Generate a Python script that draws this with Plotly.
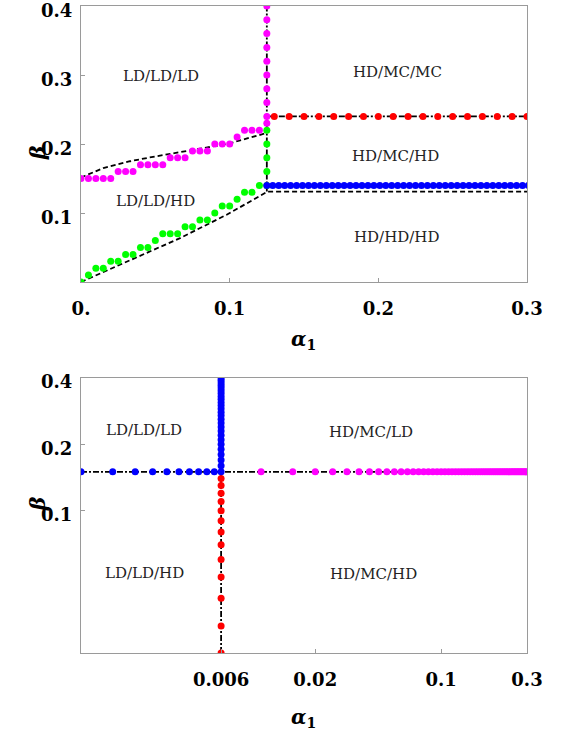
import numpy as np
import plotly.graph_objects as go

# ---------------- top panel data (linear axes) ----------------
mag_x = [0, 0.005, 0.01, 0.015, 0.02, 0.025, 0.03, 0.035, 0.04, 0.045, 0.05, 0.055,
         0.06, 0.065, 0.07, 0.075, 0.08, 0.085, 0.09, 0.095, 0.1, 0.105, 0.11, 0.115, 0.12,
         0.125, 0.125, 0.125, 0.125, 0.125, 0.125, 0.125, 0.125, 0.125, 0.125]
mag_y = [0.15, 0.15, 0.15, 0.15, 0.15, 0.16, 0.16, 0.16, 0.17, 0.17, 0.17, 0.17,
         0.18, 0.18, 0.18, 0.19, 0.19, 0.19, 0.20, 0.20, 0.20, 0.21, 0.22, 0.22, 0.22,
         0.23, 0.24, 0.26, 0.28, 0.30, 0.32, 0.34, 0.36, 0.38, 0.40]

grn_x = [0, 0.005, 0.01, 0.015, 0.02, 0.025, 0.03, 0.035, 0.04, 0.045, 0.05, 0.055,
         0.06, 0.065, 0.07, 0.075, 0.08, 0.085, 0.09, 0.095, 0.1, 0.105, 0.11, 0.115, 0.12,
         0.125, 0.125, 0.125, 0.125, 0.125]
grn_y = [0.0, 0.01, 0.02, 0.02, 0.03, 0.03, 0.04, 0.04, 0.05, 0.05, 0.06, 0.07,
         0.07, 0.07, 0.08, 0.08, 0.09, 0.09, 0.10, 0.11, 0.11, 0.12, 0.13, 0.13, 0.14,
         0.14, 0.16, 0.18, 0.20, 0.22]

red_x = [0.13, 0.14, 0.15, 0.16, 0.17, 0.18, 0.19, 0.20, 0.21, 0.22, 0.23, 0.24,
         0.25, 0.26, 0.27, 0.28, 0.29, 0.30]
red_y = [0.24] * len(red_x)

blu_x = [0.125, 0.129, 0.133, 0.137, 0.141, 0.145, 0.149, 0.153, 0.157, 0.161, 0.165,
         0.169, 0.173, 0.177, 0.181, 0.185, 0.189, 0.193, 0.197, 0.201, 0.205, 0.209,
         0.213, 0.217, 0.221, 0.225, 0.229, 0.233, 0.237, 0.241, 0.245, 0.249, 0.253,
         0.257, 0.261, 0.265, 0.269, 0.273, 0.277, 0.281, 0.285, 0.289, 0.293, 0.297, 0.301]
blu_y = [0.14] * len(blu_x)

# theory boundaries (top)
up_x = [0, 0.0027, 0.015, 0.033, 0.05, 0.067, 0.085, 0.1, 0.112, 0.125]
up_y = [0.151, 0.154, 0.165, 0.175, 0.182, 0.188, 0.195, 0.201, 0.208, 0.216]
lo_x = [0, 0.033, 0.067, 0.098, 0.1255, 0.3]
lo_y = [0, 0.032, 0.064, 0.0975, 0.131, 0.131]
vt_x = [0.125, 0.125]
vt_y = [0.131, 0.40]
ht_x = [0.125, 0.30]
ht_y = [0.24, 0.24]

# ---------------- bottom panel data (log axes) ----------------
b_blu_x = [0.001, 0.0015, 0.002, 0.0025, 0.003, 0.0035, 0.004, 0.0045, 0.005, 0.0055, 0.006,
           0.006, 0.006, 0.006, 0.006, 0.006, 0.006, 0.006, 0.006, 0.006, 0.006, 0.006,
           0.006, 0.006, 0.006, 0.006, 0.006, 0.006, 0.006, 0.006, 0.006, 0.006, 0.006,
           0.006, 0.006, 0.006]
b_blu_y = [0.15, 0.15, 0.15, 0.15, 0.15, 0.15, 0.15, 0.15, 0.15, 0.15, 0.15,
           0.16, 0.17, 0.18, 0.19, 0.20, 0.21, 0.22, 0.23, 0.24, 0.25, 0.26,
           0.27, 0.28, 0.29, 0.30, 0.31, 0.32, 0.33, 0.34, 0.35, 0.36, 0.37,
           0.38, 0.39, 0.40]

b_red_y = [0.14, 0.13, 0.12, 0.11, 0.10, 0.09, 0.08, 0.07, 0.06, 0.05, 0.04, 0.03, 0.0226]
b_red_x = [0.006] * len(b_red_y)

b_mag_x = [0.01, 0.015, 0.02, 0.025, 0.03, 0.035, 0.04, 0.045, 0.05, 0.055, 0.06, 0.065,
           0.07, 0.075, 0.08, 0.085, 0.09, 0.095, 0.1, 0.105, 0.11, 0.115, 0.12, 0.125,
           0.13, 0.135, 0.14, 0.145, 0.15, 0.155, 0.16, 0.165, 0.17, 0.175, 0.18, 0.185,
           0.19, 0.195, 0.2, 0.205, 0.21, 0.215, 0.22, 0.225, 0.23, 0.235, 0.24, 0.245,
           0.25, 0.255, 0.26, 0.265, 0.27, 0.275, 0.28, 0.285, 0.29, 0.295, 0.3]
b_mag_y = [0.15] * len(b_mag_x)

b_h_x = [0.001, 0.3]
b_h_y = [0.15, 0.15]
b_v_x = [0.006, 0.006]
b_v_y = [0.0226, 0.40]

top_labels = ["LD/LD/LD", "LD/LD/HD", "HD/MC/MC", "HD/MC/HD", "HD/HD/HD"]
top_lab_x = [0.054, 0.050, 0.213, 0.2115, 0.212]
top_lab_y = [0.299, 0.118, 0.305, 0.183, 0.065]

bot_labels = ["LD/LD/LD", "LD/LD/HD", "HD/MC/LD", "HD/MC/HD"]
bot_lab_x = [0.00225, 0.00224, 0.0406, 0.042]
bot_lab_y = [0.232, 0.052, 0.228, 0.0516]

top_xticks = [0, 0.1, 0.2, 0.3]
top_xtext = ["0.", "0.1", "0.2", "0.3"]
top_yticks = [0.1, 0.2, 0.3, 0.4]
top_ytext = ["0.1", "0.2", "0.3", "0.4"]
bot_xticks = [0.006, 0.02, 0.1, 0.3]
bot_xtext = ["0.006", "0.02", "0.1", "0.3"]
bot_yticks = [0.1, 0.2, 0.4]
bot_ytext = ["0.1", "0.2", "0.4"]

# ---------------- figure ----------------
SERIF = "DejaVu Serif"
fig = go.Figure()

line_style = dict(color="black", width=1.8, dash="5px,3px")
dd_style = dict(color="black", width=1.8, dash="6px,2px,2px,2px")
msize = 7

# top lines
fig.add_trace(go.Scatter(x=up_x, y=up_y, mode="lines", line=line_style, xaxis="x", yaxis="y"))
fig.add_trace(go.Scatter(x=lo_x, y=lo_y, mode="lines", line=line_style, xaxis="x", yaxis="y"))
fig.add_trace(go.Scatter(x=vt_x, y=vt_y, mode="lines", line=dd_style, xaxis="x", yaxis="y"))
fig.add_trace(go.Scatter(x=ht_x, y=ht_y, mode="lines", line=dd_style, xaxis="x", yaxis="y"))
# top markers
for xs, ys, col in [(grn_x, grn_y, "#00ff00"), (mag_x, mag_y, "#ff00ff"),
                    (red_x, red_y, "#ff0000"), (blu_x, blu_y, "#0000ff")]:
    fig.add_trace(go.Scatter(x=xs, y=ys, mode="markers",
                             marker=dict(color=col, size=msize, line=dict(width=0)),
                             xaxis="x", yaxis="y", cliponaxis=True))

# bottom lines
fig.add_trace(go.Scatter(x=b_h_x, y=b_h_y, mode="lines", line=dd_style, xaxis="x2", yaxis="y2"))
fig.add_trace(go.Scatter(x=b_v_x, y=b_v_y, mode="lines", line=dd_style, xaxis="x2", yaxis="y2"))
for xs, ys, col in [(b_mag_x, b_mag_y, "#ff00ff"), (b_red_x, b_red_y, "#ff0000"),
                    (b_blu_x, b_blu_y, "#0000ff")]:
    fig.add_trace(go.Scatter(x=xs, y=ys, mode="markers",
                             marker=dict(color=col, size=msize, line=dict(width=0)),
                             xaxis="x2", yaxis="y2", cliponaxis=True))

tickfont = dict(family=SERIF, size=18, color="black", weight="bold")
axis_common = dict(showline=True, mirror=True, linecolor="#9a9a9a", linewidth=1,
                   showgrid=False, zeroline=False, ticks="inside", ticklen=4,
                   tickcolor="#9a9a9a", tickfont=tickfont, automargin=False,
                   ticklabeloverflow="allow")

xd = [81 / 563, 527 / 563]
fig.update_layout(
    width=563, height=734,
    margin=dict(l=0, r=0, t=0, b=0, autoexpand=False),
    paper_bgcolor="white", plot_bgcolor="white",
    showlegend=False,
    xaxis=dict(domain=xd, range=[0, 0.3], anchor="y", tickmode="array",
               tickvals=top_xticks, ticktext=top_xtext, ticklabelstandoff=10, **axis_common),
    yaxis=dict(domain=[1 - 282 / 734, 1 - 6 / 734], range=[0, 0.4], anchor="x",
               tickmode="array", tickvals=top_yticks, ticktext=top_ytext,
               ticklabelstandoff=4, ticklabelshift=5, **axis_common),
    xaxis2=dict(domain=xd, type="log", range=[np.log10(0.001), np.log10(0.3)], anchor="y2",
                tickmode="array", tickvals=bot_xticks, ticktext=bot_xtext,
                ticklabelstandoff=10, **axis_common),
    yaxis2=dict(domain=[1 - 653 / 734, 1 - 378 / 734], type="log",
                range=[np.log10(0.0226), np.log10(0.4)], anchor="x2", tickmode="array",
                tickvals=bot_yticks, ticktext=bot_ytext, ticklabelstandoff=4,
                ticklabelshift=4, **axis_common),
)

ann = []
labfont = dict(family=SERIF, size=15, color="#222222")
for t, x, y in zip(top_labels, top_lab_x, top_lab_y):
    ann.append(dict(text=t, x=x, y=y, xref="x", yref="y", showarrow=False, font=labfont))
for t, x, y in zip(bot_labels, bot_lab_x, bot_lab_y):
    ann.append(dict(text=t, x=np.log10(x), y=np.log10(y), xref="x2", yref="y2",
                    showarrow=False, font=labfont))

titlefont = dict(family=SERIF, size=20, color="black", weight="bold")
ann.append(dict(text="<i>α</i><sub>1</sub>", x=303 / 563, y=1 - 340 / 734, xref="paper",
                yref="paper", showarrow=False, font=titlefont))
ann.append(dict(text="<i>α</i><sub>1</sub>", x=303 / 563, y=1 / 734, xref="paper",
                yref="paper", yanchor="bottom", showarrow=False, font=titlefont))
ann.append(dict(text="<i>β</i>", x=24 / 563, y=1 - 144 / 734, xref="paper", yref="paper",
                showarrow=False, textangle=-90, font=titlefont))
ann.append(dict(text="<i>β</i>", x=24 / 563, y=1 - 513 / 734, xref="paper", yref="paper",
                showarrow=False, textangle=-90, font=titlefont))
fig.update_layout(annotations=ann)

fig.write_html("out.html",
               config={"displayModeBar": False},
               post_script="document.body.style.margin='0px';"
                           "document.body.style.overflow='hidden';")
